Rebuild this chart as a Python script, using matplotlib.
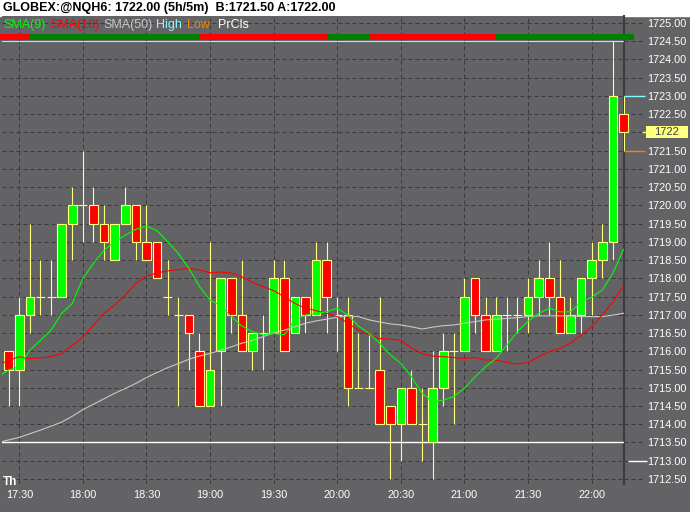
import matplotlib
matplotlib.use("Agg")
import matplotlib.pyplot as plt
from matplotlib.patches import Rectangle
import numpy as np

plt.rcParams['font.family'] = ['Liberation Sans', 'DejaVu Sans']

# 5 minute bars, bar 0 = 17:30, bar -1 = 17:25 ... bar 57 = 22:15
bar_pos = list(range(-1, 58))
opens = [1716, 1715.5, 1717, 1717.5, 1717.5, 1717.5, 1719.5, 1720, 1720, 1719.5,
         1718.5, 1719.5, 1720, 1719, 1719, 1717.5, 1717, 1717, 1716, 1714.5,
         1716, 1718, 1717, 1716, 1716.5, 1716.5, 1718, 1716.5, 1717.5, 1717,
         1718.5, 1717, 1717, 1715, 1715, 1715.5, 1714.5, 1714, 1715, 1714,
         1713.5, 1715, 1716, 1716, 1718, 1717, 1716, 1717, 1717, 1717,
         1717.5, 1718, 1717.5, 1716.5, 1717, 1718, 1718.5, 1719, 1722.5]
highs = [1716, 1717.5, 1719.5, 1718.5, 1718.5, 1719.5, 1720.5, 1721.5, 1720.5, 1720,
         1719.5, 1720.5, 1720, 1720, 1719, 1718.5, 1717.5, 1717, 1716.5, 1719,
         1718, 1718, 1718.5, 1716.5, 1717, 1718.5, 1718.5, 1717.5, 1717.5, 1719,
         1719, 1717.5, 1717.5, 1716.5, 1716.5, 1717.5, 1714.5, 1715, 1715.5, 1715,
         1716, 1716.5, 1716.5, 1718, 1718, 1717.5, 1717.5, 1717.5, 1717.5, 1718,
         1718.5, 1719, 1718.5, 1717.5, 1718, 1719, 1719.5, 1724.5, 1723]
lows = [1714.5, 1714.5, 1716.5, 1717, 1717, 1717.5, 1718.5, 1719, 1719, 1718.5,
        1718.5, 1719.5, 1718.5, 1718.5, 1718, 1717, 1714.5, 1715.5, 1714.5, 1714.5,
        1714.5, 1716.5, 1716, 1715.5, 1715.5, 1716.5, 1716, 1716.5, 1716.5, 1717,
        1716.5, 1716, 1714.5, 1715, 1715, 1714, 1712.5, 1713, 1714, 1713,
        1712.5, 1714.5, 1714, 1716, 1716.5, 1716, 1716, 1716, 1716.5, 1716.5,
        1717, 1717, 1716.5, 1716.5, 1716.5, 1717, 1718, 1718.5, 1721.5]
closes = [1715.5, 1717, 1717.5, 1717.5, 1717.5, 1719.5, 1720, 1720, 1719.5, 1719,
          1719.5, 1720, 1719, 1718.5, 1718, 1717.5, 1717, 1716.5, 1714.5, 1715.5,
          1718, 1717, 1716, 1716.5, 1716.5, 1718, 1716, 1717.5, 1717, 1718.5,
          1717.5, 1717, 1715, 1715, 1715, 1714, 1714, 1715, 1714, 1714,
          1715, 1716, 1716, 1717.5, 1717, 1716, 1717, 1717, 1717, 1717.5,
          1718, 1717.5, 1716.5, 1717, 1718, 1718.5, 1719, 1723, 1722]

# indicator lines, one point per bar starting at bar -2
ma_pos = list(range(-2, 58))
sma9 = [1715.30, 1715.49, 1715.58, 1716.03, 1716.30, 1716.58, 1717.04, 1717.31, 1718.00, 1718.41,
        1718.77, 1719.00, 1719.18, 1719.34, 1719.43, 1719.30, 1719.00, 1718.68, 1718.27, 1717.77,
        1717.40, 1717.25, 1716.95, 1716.69, 1716.54, 1716.45, 1716.49, 1716.45, 1716.86, 1716.99,
        1717.04, 1717.08, 1717.18, 1716.99, 1716.69, 1716.49, 1716.22, 1715.90, 1715.67, 1715.30,
        1714.85, 1714.62, 1714.66, 1714.76, 1714.99, 1715.30, 1715.58, 1715.81, 1716.17, 1716.54,
        1716.82, 1717.04, 1717.18, 1717.08, 1717.08, 1717.36, 1717.48, 1717.68, 1718.14, 1718.79]
sma18 = [1715.62, 1715.75, 1715.85, 1715.80, 1715.82, 1715.85, 1715.94, 1716.17, 1716.38, 1716.72,
         1717.04, 1717.27, 1717.54, 1717.86, 1718.06, 1718.15, 1718.20, 1718.24, 1718.27, 1718.23,
         1718.15, 1718.17, 1718.14, 1718.04, 1717.88, 1717.77, 1717.66, 1717.49, 1717.31, 1717.18,
         1717.11, 1717.04, 1716.95, 1716.77, 1716.58, 1716.45, 1716.35, 1716.33, 1716.30, 1716.08,
         1715.94, 1715.87, 1715.85, 1715.83, 1715.80, 1715.83, 1715.76, 1715.76, 1715.69, 1715.65,
         1715.69, 1715.85, 1715.99, 1716.08, 1716.22, 1716.45, 1716.67, 1716.99, 1717.36, 1717.79]
sma50 = [1713.50, 1713.57, 1713.64, 1713.74, 1713.84, 1713.95, 1714.06, 1714.22, 1714.40, 1714.55,
         1714.70, 1714.85, 1714.98, 1715.12, 1715.28, 1715.42, 1715.55, 1715.66, 1715.78, 1715.87,
         1715.94, 1716.03, 1716.12, 1716.22, 1716.30, 1716.40, 1716.50, 1716.58, 1716.67, 1716.77,
         1716.83, 1716.88, 1716.93, 1716.97, 1716.95, 1716.86, 1716.80, 1716.75, 1716.72, 1716.67,
         1716.61, 1716.66, 1716.70, 1716.72, 1716.77, 1716.81, 1716.86, 1716.88, 1716.90, 1716.92,
         1716.95, 1716.97, 1716.97, 1716.97, 1716.97, 1716.95, 1716.95, 1716.95, 1716.99, 1717.04]
# colour strip at the top, one cell per bar from bar -2 (g = up, r = down)
trend_state = "rrrggggggggggggggggrrrrrrrrrrrrggggrrrrrrrrrrrrggggggggggggg"

time_labels = ["17:30", "18:00", "18:30", "19:00", "19:30", "20:00", "20:30", "21:00", "21:30", "22:00"]
time_pos = [0, 6, 12, 18, 24, 30, 36, 42, 48, 54]

session_high = 1724.5
prev_close = 1713.5
last_high, last_low, last_price = 1723.0, 1721.5, 1722

title = "GLOBEX:@NQH6: 1722.00 (5h/5m)  B:1721.50 A:1722.00"

BG = '#636366'
GRID = '#3a3a3c'
YEL = '#FFFF80'
W, H = 690, 512

fig = plt.figure(figsize=(W / 100, H / 100), dpi=100, facecolor=BG)
fig.add_artist(Rectangle((0, 1 - 16 / H), 1, 16 / H, transform=fig.transFigure,
                         color='white', zorder=0))

ax = fig.add_axes([2 / W, 28 / H, 621.5 / W, 468 / H])
ax.set_facecolor(BG)
ax.set_xlim(-1.632, 57)
ax.set_ylim(1712.363, 1725.185)

yticks = np.arange(1712.5, 1725.01, 0.5)
ax.set_yticks(yticks)
ax.set_yticklabels(['' if v == 1722.0 else f'{v:.2f}' for v in yticks])
ax.set_xticks(time_pos)
ax.set_xticklabels(time_labels)
ax.grid(True, color=GRID, lw=0.72, ls=(0, (4, 3)))
ax.set_axisbelow(True)
ax.yaxis.tick_right()
ax.tick_params(axis='y', length=0, pad=17, labelcolor='white', labelsize=7.8)
ax.tick_params(axis='x', length=0, pad=4, labelcolor='white', labelsize=7.8)
for side in ['left', 'top', 'bottom']:
    ax.spines[side].set_visible(False)
ax.spines['right'].set_color('#3c3c3e')
ax.spines['right'].set_linewidth(1.5)

# candles
ax.vlines(bar_pos, lows, highs, color=YEL, lw=0.8, zorder=3, clip_on=False)
for x, o, c in zip(bar_pos, opens, closes):
    if o == c:
        ax.hlines(o, x - 0.42, x + 0.42, color=YEL, lw=0.8, zorder=4, clip_on=False)
    else:
        fill = '#00FF00' if c > o else '#FF0000'
        ax.bar(x, abs(c - o), bottom=min(o, c), width=0.8, color=fill,
               edgecolor=YEL, lw=0.8, zorder=4, clip_on=False)

# top strip
strip = ax.bar(ma_pos, 0.17, bottom=1724.53, width=1.0, align='edge',
               color=['#008000' if s == 'g' else '#FF0000' for s in trend_state], zorder=2.6)
for p in strip:
    p.set_clip_on(False)

ax.axhline(session_high, color='#80FFFF', lw=0.8, zorder=2.7)
ax.axhline(prev_close, color='white', lw=1.0, zorder=2.7)

ax.plot(ma_pos, sma50, color='#C8C8C8', lw=0.8, zorder=5)
ax.plot(ma_pos, sma18, color='#FF0000', lw=0.8, zorder=5)
ax.plot(ma_pos, sma9, color='#00FF00', lw=0.8, zorder=5)

# marks on the price scale
trans = ax.get_yaxis_transform()
def ax_x(px):
    return (px - 2) / 621.5

ax.hlines(yticks, 1.0, ax_x(645), transform=trans, colors=GRID, lw=0.72,
          ls=(0, (4, 3)), clip_on=False)
ax.hlines(last_high, 1.0, ax_x(645), transform=trans, color='#80FFFF', lw=1, clip_on=False, zorder=6)
ax.hlines(last_low, 1.0, ax_x(645), transform=trans, color='#FF8000', lw=1, clip_on=False, zorder=6)
ax.hlines(1713.0, ax_x(628), ax_x(647), transform=trans, color='white', lw=1, clip_on=False, zorder=6)
ax.hlines(last_price, ax_x(642), ax_x(647), transform=trans, color=YEL, lw=1, clip_on=False, zorder=6)
ax.add_patch(Rectangle((ax_x(646), last_price - 0.168), ax_x(688) - ax_x(646), 0.337,
                       transform=trans, fc=YEL, ec='none', clip_on=False, zorder=6))
ax.text(ax_x(667), last_price, str(last_price), transform=trans, ha='center', va='center',
        color='#404040', fontsize=8, zorder=7)

# header and legend
fig.text(3 / W, 1 - 8.5 / H, title, fontweight='bold', fontsize=9, va='center', color='black')
legend = [("SMA(9)", '#00FF00', 3), ("SMA(18)", '#FF0000', 50), ("SMA(50)", '#C8C8C8', 103),
          ("High", '#80FFFF', 156), ("Low", '#FF8000', 187), ("PrCls", 'white', 218)]
for txt, col, px in legend:
    fig.text(px / W, 1 - 25 / H, txt, color=col, fontsize=9, va='center')
fig.text(3 / W, 1 - 482 / H, "Th", color='white', fontsize=8.5, fontweight='bold', va='center')

fig.savefig('out.png', dpi=100, facecolor=BG)
